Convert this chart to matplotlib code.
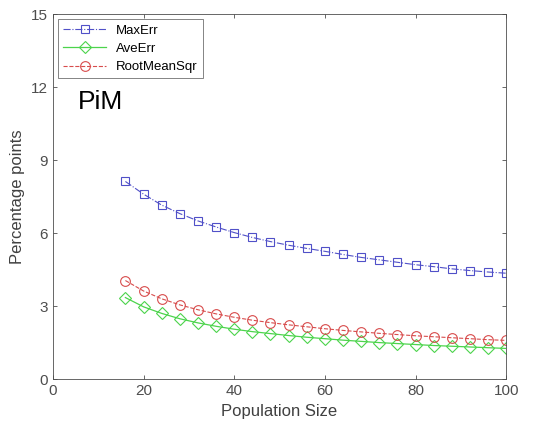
import numpy as np
import matplotlib.pyplot as plt

plt.rcParams['font.family'] = ['Liberation Sans', 'DejaVu Sans']

# 数据
pop_size = [16, 20, 24, 28, 32, 36, 40, 44, 48, 52, 56, 60, 64, 68, 72, 76, 80, 84, 88, 92, 96, 100]
max_err = [8.12, 7.6, 7.15, 6.8, 6.5, 6.25, 6.02, 5.82, 5.65, 5.5, 5.37, 5.25,
           5.12, 5.0, 4.9, 4.8, 4.7, 4.62, 4.53, 4.46, 4.4, 4.35]
ave_err = [3.35, 2.97, 2.7, 2.48, 2.31, 2.17, 2.05, 1.95, 1.87, 1.79, 1.72, 1.66,
           1.6, 1.55, 1.5, 1.46, 1.42, 1.38, 1.35, 1.32, 1.29, 1.26]
rms_err = [4.05, 3.62, 3.3, 3.05, 2.85, 2.68, 2.54, 2.42, 2.32, 2.23, 2.15, 2.07,
           2.0, 1.94, 1.88, 1.83, 1.78, 1.74, 1.7, 1.66, 1.62, 1.59]
xticks = [0, 20, 40, 60, 80, 100]
yticks = [0, 3, 6, 9, 12, 15]

fig = plt.figure(figsize=(5.34, 4.25), dpi=100)
ax = fig.add_axes([0.099, 0.108, 0.849, 0.859])

ax.plot(pop_size, max_err, color='#5050c8', linestyle='-.', linewidth=0.8,
        marker='s', markersize=6, markerfacecolor='none', markeredgewidth=0.8, label='MaxErr')
ax.plot(pop_size, ave_err, color='#4cd44c', linestyle='-', linewidth=0.9,
        marker='D', markersize=6, markerfacecolor='none', markeredgewidth=0.8, label='AveErr')
ax.plot(pop_size, rms_err, color='#d84c4c', linestyle='--', linewidth=0.8,
        marker='o', markersize=7, markerfacecolor='none', markeredgewidth=0.8, label='RootMeanSqr')

ax.set_xlim(0, 100)
ax.set_ylim(0, 15)
ax.set_xticks(xticks)
ax.set_yticks(yticks)
ax.tick_params(direction='in', top=True, right=True, labelsize=11, colors='#4d4d4d', length=3, width=0.6)
for s in ax.spines.values():
    s.set_color('#4d4d4d')
    s.set_linewidth(0.6)

ax.set_xlabel('Population Size', fontsize=12, color='#404040')
ax.set_ylabel('Percentage points', fontsize=12, color='#404040')
ax.text(5.5, 11.4, 'PiM', fontsize=19, va='center', ha='left')

leg = ax.legend(loc='upper left', fontsize=9.5, frameon=True, fancybox=False,
                edgecolor='#4d4d4d', borderaxespad=0.4, handlelength=3.2,
                labelspacing=0.45)
leg.get_frame().set_linewidth(0.6)

plt.savefig('out.png', dpi=100)
